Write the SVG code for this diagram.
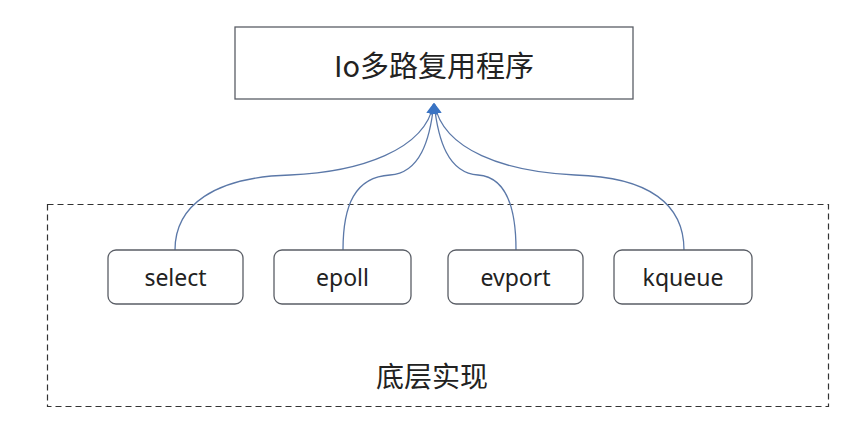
<svg xmlns="http://www.w3.org/2000/svg" width="847" height="421" viewBox="0 0 847 421">
<style>
.box{fill:#fff;stroke:#5a5e66;stroke-width:1.3}
.node{fill:#fff;stroke:#5a5e66;stroke-width:1.3}
.lbl{font-family:"Noto Sans","Noto Sans CJK SC",sans-serif;fill:#222;text-anchor:middle}
.cjk{font-family:"Noto Sans CJK SC",sans-serif}
.conn{fill:none;stroke:#5b78a8;stroke-width:1.3}
</style>
<defs>
<marker id="arr" viewBox="0 0 10 10" refX="9" refY="5" markerWidth="11" markerHeight="11" markerUnits="userSpaceOnUse" orient="auto">
<path d="M0,0 L10,5 L0,10 z" fill="#3a74c4"/>
</marker>
</defs>
<rect width="847" height="421" fill="#fff"/>
<g id="group-bottom">
<rect x="47.5" y="204.5" width="781" height="202" fill="none" stroke="#333" stroke-width="1.2" stroke-dasharray="6,4"/>
<text class="lbl cjk" x="432" y="387" font-size="28">底层实现</text>
</g>
<g id="connectors">
<path class="conn" d="M175,250 C175,205 215,177 290,175 C360,172 425,150 433.5,104" marker-end="url(#arr)"/>
<path class="conn" d="M343,250 C343,205 355,177 390,175 C420,173 430,140 433.8,104" marker-end="url(#arr)"/>
<path class="conn" d="M516,250 C516,205 505,177 478,175 C448,173 438,140 434.2,104" marker-end="url(#arr)"/>
<path class="conn" d="M684,250 C684,205 650,177 575,175 C505,172 443,150 434.5,104" marker-end="url(#arr)"/>
</g>
<g id="node-top">
<rect class="box" x="235" y="27" width="398" height="72"/>
<text class="lbl cjk" x="434" y="77" font-size="29">Io多路复用程序</text>
</g>
<g id="node-select">
<rect class="node" x="108" y="250" width="135" height="54" rx="8"/>
<text class="lbl" x="175.5" y="286" font-size="23">select</text>
</g>
<g id="node-epoll">
<rect class="node" x="274" y="250" width="137" height="54" rx="8"/>
<text class="lbl" x="342.5" y="286" font-size="23">epoll</text>
</g>
<g id="node-evport">
<rect class="node" x="448" y="250" width="135" height="54" rx="8"/>
<text class="lbl" x="515.5" y="286" font-size="23">evport</text>
</g>
<g id="node-kqueue">
<rect class="node" x="614" y="250" width="138" height="54" rx="8"/>
<text class="lbl" x="683" y="286" font-size="23">kqueue</text>
</g>
</svg>
